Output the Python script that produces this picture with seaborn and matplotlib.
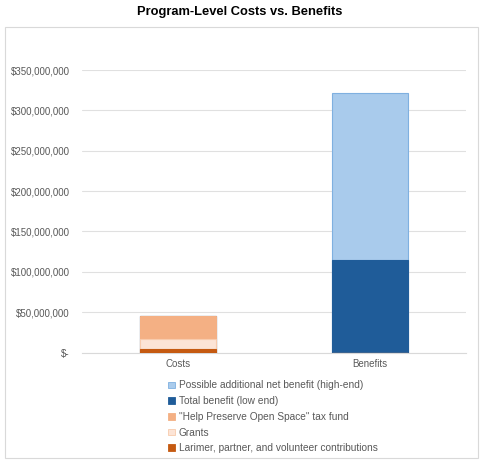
import matplotlib
matplotlib.use("Agg")
import matplotlib.pyplot as plt
import matplotlib.patches as mpatches
from matplotlib.ticker import FuncFormatter, MultipleLocator
import seaborn as sns
import pandas as pd
import numpy as np

categories = ["Costs", "Benefits"]
larimer = [4.0e6, 0.0]
grants = [12.5e6, 0.0]
tax_fund = [29.0e6, 0.0]
total_low = [0.0, 114.0e6]
additional = [0.0, 208.0e6]

series_names = [
    "Larimer, partner, and volunteer contributions",
    "Grants",
    "\"Help Preserve Open Space\" tax fund",
    "Total benefit (low end)",
    "Possible additional net benefit (high-end)",
]
series_values = [larimer, grants, tax_fund, total_low, additional]
fill_colors = ["#C55A11", "#FCE4D6", "#F4B084", "#1F5C99", "#A9CBEC"]
edge_colors = ["#C55A11", "#F8CBAD", "#F4B084", "#1F5C99", "#7FB0E0"]

sns.set_theme(style="white")
plt.rcParams["font.family"] = ["Liberation Sans", "DejaVu Sans"]

fig = plt.figure(figsize=(4.8, 4.62), dpi=100)
ax = fig.add_axes([82 / 480, 1 - 352.5 / 462, (466 - 82) / 480, (352.5 - 70) / 462])

cum = np.cumsum(np.array(series_values), axis=0)
# draw tallest cumulative layer first so lower layers paint over it
for i in range(len(series_names) - 1, -1, -1):
    df = pd.DataFrame({"cat": categories, "val": cum[i]})
    sns.barplot(data=df, x="cat", y="val", order=categories, color=fill_colors[i],
                width=0.4, edgecolor=edge_colors[i], linewidth=0.8, ax=ax,
                saturation=1, zorder=3)

ax.set_xlim(-0.5, 1.5)
ax.set_ylim(0, 350e6)
ax.yaxis.set_major_locator(MultipleLocator(50e6))


def fmt(v, pos):
    if abs(v) < 1:
        return "$-"
    return "${:,.0f}".format(v)


ax.yaxis.set_major_formatter(FuncFormatter(fmt))
ax.grid(axis="y", color="#E0E0E0", linewidth=0.8, zorder=0)
ax.set_axisbelow(True)
for s in ["top", "right", "left"]:
    ax.spines[s].set_visible(False)
ax.spines["bottom"].set_color("#D9D9D9")
ax.spines["bottom"].set_linewidth(0.8)
ax.tick_params(axis="y", length=0, pad=9, labelsize=7, labelcolor="#595959")
ax.tick_params(axis="x", length=0, pad=5, labelsize=7, labelcolor="#595959")
ax.set_xlabel("")
ax.set_ylabel("")

fig.text(0.5, 1 - 12 / 462, "Program-Level Costs vs. Benefits", ha="center", va="center",
         fontsize=9.3, fontweight="bold", color="#000000")

handles = [mpatches.Patch(facecolor=fill_colors[i], edgecolor=edge_colors[i], linewidth=0.6,
                          label=series_names[i]) for i in range(len(series_names) - 1, -1, -1)]
leg = fig.legend(handles=handles, loc="upper left", bbox_to_anchor=(168 / 480, 1 - 380.5 / 462),
                 frameon=False, fontsize=7.3, handlelength=0.65, handleheight=0.65,
                 handletextpad=0.4, labelspacing=0.56, borderaxespad=0, borderpad=0)
for t in leg.get_texts():
    t.set_color("#595959")

border = mpatches.Rectangle((5 / 480, 1 - 458 / 462), (478 - 5) / 480, (458 - 27) / 462,
                            transform=fig.transFigure, fill=False, edgecolor="#D9D9D9",
                            linewidth=0.8)
fig.patches.append(border)

fig.savefig("out.png", dpi=100)
